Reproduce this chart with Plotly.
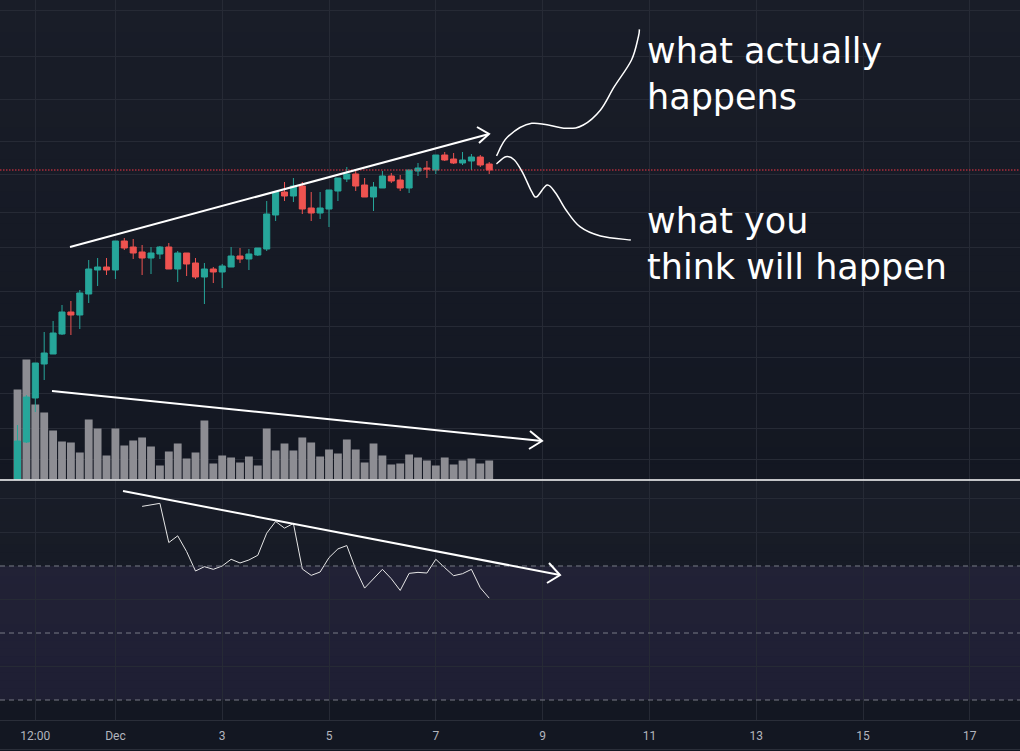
import plotly.graph_objects as go
import pandas as pd

W, H = 1020, 751

# ---------------- data (4-hour candles) ----------------
start_time = "2023-11-29 04:00"
opens = [0.15, 0.58, 1.02, 1.36, 1.46, 1.66, 1.88, 1.85, 2.06, 2.30,
         2.33, 2.30, 2.59, 2.53, 2.48, 2.42, 2.46, 2.53, 2.31, 2.47,
         2.37, 2.23, 2.31, 2.28, 2.33, 2.44, 2.41, 2.45, 2.51, 2.85,
         3.08, 3.04, 3.14, 2.92, 2.87, 2.91, 3.09, 3.21, 3.26, 3.15,
         3.03, 3.12, 3.24, 3.20, 3.12, 3.29, 3.32, 3.30, 3.45, 3.41,
         3.37, 3.39, 3.43, 3.36]
highs = [0.75, 1.05, 1.37, 1.68, 1.79, 1.95, 1.99, 2.10, 2.40, 2.42,
         2.42, 2.59, 2.62, 2.61, 2.55, 2.53, 2.54, 2.57, 2.49, 2.47,
         2.42, 2.37, 2.33, 2.36, 2.53, 2.52, 2.51, 2.52, 2.99, 3.08,
         3.18, 3.22, 3.18, 3.08, 3.08, 3.10, 3.22, 3.33, 3.30, 3.22,
         3.18, 3.29, 3.27, 3.25, 3.30, 3.37, 3.39, 3.45, 3.48, 3.47,
         3.48, 3.46, 3.45, 3.38]
lows = [0.10, 0.57, 0.88, 1.20, 1.46, 1.65, 1.65, 1.71, 1.97, 2.14,
        2.25, 2.21, 2.50, 2.41, 2.25, 2.26, 2.41, 2.31, 2.18, 2.24,
        2.21, 1.96, 2.17, 2.12, 2.33, 2.37, 2.30, 2.44, 2.49, 2.79,
        2.99, 2.98, 2.86, 2.79, 2.81, 2.73, 2.99, 3.18, 3.09, 3.03,
        2.89, 3.12, 3.17, 3.09, 3.07, 3.24, 3.22, 3.26, 3.39, 3.36,
        3.35, 3.30, 3.33, 3.26]
closes = [0.59, 1.03, 1.37, 1.47, 1.67, 1.88, 1.85, 2.07, 2.31, 2.33,
          2.30, 2.59, 2.52, 2.47, 2.42, 2.47, 2.53, 2.31, 2.47, 2.36,
          2.23, 2.31, 2.28, 2.34, 2.44, 2.41, 2.46, 2.52, 2.86, 3.08,
          3.04, 3.14, 2.91, 2.87, 2.92, 3.10, 3.22, 3.26, 3.14, 3.03,
          3.13, 3.24, 3.19, 3.12, 3.30, 3.32, 3.31, 3.45, 3.40, 3.37,
          3.40, 3.43, 3.35, 3.30]
volume = [900, 1200, 750, 670, 490, 380, 370, 270, 600, 510,
          240, 510, 340, 390, 420, 330, 140, 280, 360, 210,
          270, 590, 160, 240, 220, 170, 230, 140, 510, 290,
          360, 290, 420, 370, 230, 300, 260, 400, 300, 170,
          360, 240, 150, 160, 250, 220, 190, 140, 220, 150,
          190, 210, 160, 190]
rsi_start = 14
rsi = [87.8, 88.2, 88.7, 77.0, 79.0, 74.3, 68.5, 69.8, 69.0, 70.0,
       72.0, 70.9, 71.8, 73.2, 79.8, 83.3, 81.3, 82.7, 69.1, 67.2,
       68.2, 72.5, 75.1, 76.1, 69.0, 63.4, 66.2, 69.0, 66.2, 62.7,
       67.8, 68.1, 67.9, 72.0, 69.5, 67.1, 67.7, 69.0, 63.5, 60.4]

tick_vals = ["2023-11-29 12:00", "2023-12-01", "2023-12-03", "2023-12-05",
             "2023-12-07", "2023-12-09", "2023-12-11", "2023-12-13",
             "2023-12-15", "2023-12-17"]
tick_text = ["12:00", "Dec", "3", "5", "7", "9", "11", "13", "15", "17"]
price_grid = [4.90, 4.44, 4.01, 3.59, 3.26, 2.88, 2.53, 2.09, 1.74, 1.43, 1.07, 0.72, 0.41]
rsi_grid = [40, 60, 80, 90]
rsi_levels = [70, 50, 30]
notes = ["what actually<br>happens", "what you<br>think will happen"]

times = pd.date_range(start_time, periods=len(opens), freq="4h")
last_price = closes[-1]

# ---------------- style ----------------
UP, DOWN, VOL = "#26a69a", "#ef5350", "#8d8d93"
GRID = "#262a35"
BG_TOP, BG_BOT = (25, 29, 40), (19, 23, 34)
X_RANGE = ["2023-11-28 20:08", "2023-12-17 22:33"]
MAIN = [1 - 479.5 / H, 1.0]
LOWER = [1 - 720 / H, 1 - 481 / H]


def px(x):
    return x / W


def py(y):
    return 1 - y / H


def blend(c1, c2, t):
    return "rgb(%d,%d,%d)" % tuple(round(a + (b - a) * t) for a, b in zip(c1, c2))


shapes = []


def gradient(y_top, y_bot, n=30):
    for k in range(n):
        a = y_top + (y_bot - y_top) * k / n
        b = y_top + (y_bot - y_top) * (k + 1) / n
        shapes.append(dict(type="rect", xref="paper", yref="paper", x0=0, x1=1,
                           y0=py(min(b + 0.6, y_bot)), y1=py(a),
                           fillcolor=blend(BG_TOP, BG_BOT, (k + 0.5) / n),
                           line=dict(width=0), layer="below"))


gradient(0, 479.5)
gradient(481, 720)

# RSI band
shapes.append(dict(type="rect", xref="paper", yref="y3", x0=0, x1=1, y0=30, y1=70,
                   fillcolor="rgba(126,87,194,0.11)", line=dict(width=0), layer="below"))
for lv in rsi_levels:
    shapes.append(dict(type="line", xref="paper", yref="y3", x0=0, x1=1, y0=lv, y1=lv,
                       line=dict(color="#787b86", width=1, dash="5px,4px"), layer="above"))
# last price line
shapes.append(dict(type="line", xref="paper", yref="y2", x0=0, x1=1, y0=last_price, y1=last_price,
                   line=dict(color="#f23645", width=1, dash="1.5px,1.5px"), layer="above"))
# pane separator and bottom frame
shapes.append(dict(type="line", xref="paper", yref="paper", x0=0, x1=1, y0=py(480), y1=py(480),
                   line=dict(color="#ffffff", width=1.5), layer="above"))
shapes.append(dict(type="line", xref="paper", yref="paper", x0=0, x1=1, y0=py(749.5), y1=py(749.5),
                   line=dict(color="#2a2e39", width=1), layer="above"))


def poly(pts, width=2.0):
    d = "M" + " L".join(f"{px(x):.5f},{py(y):.5f}" for x, y in pts)
    shapes.append(dict(type="path", xref="paper", yref="paper", path=d,
                       line=dict(color="#ffffff", width=width), layer="above"))


def smooth(pts, width=1.5):
    P = [(px(x), py(y)) for x, y in pts]
    d = f"M{P[0][0]:.5f},{P[0][1]:.5f}"
    for i in range(len(P) - 1):
        p0 = P[i - 1] if i > 0 else P[i]
        p1, p2 = P[i], P[i + 1]
        p3 = P[i + 2] if i + 2 < len(P) else P[i + 1]
        c1 = (p1[0] + (p2[0] - p0[0]) / 6, p1[1] + (p2[1] - p0[1]) / 6)
        c2 = (p2[0] - (p3[0] - p1[0]) / 6, p2[1] - (p3[1] - p1[1]) / 6)
        d += f" C{c1[0]:.5f},{c1[1]:.5f} {c2[0]:.5f},{c2[1]:.5f} {p2[0]:.5f},{p2[1]:.5f}"
    shapes.append(dict(type="path", xref="paper", yref="paper", path=d,
                       line=dict(color="#ffffff", width=width), layer="above"))


# hand-drawn trend arrows
poly([(70, 247), (489, 134)])
poly([(477, 127), (489, 134), (479, 143)])
poly([(52, 391), (542, 441)])
poly([(530, 431), (542, 441), (529, 449)])
poly([(123, 491), (560, 575)])
poly([(549, 563), (560, 575), (547, 583)])
# hand-drawn scenario curves
smooth([(496.5, 156), (507.5, 137), (531.7, 123.3), (566, 128.3), (583.3, 125),
        (600.5, 110), (614.3, 86.7), (631.5, 60), (638.4, 36.7), (639.4, 29.3)])
smooth([(496.5, 164), (505.8, 156.7), (514.4, 160), (523, 173.3), (531.7, 191.7),
        (536.8, 196.7), (547.1, 185), (555.8, 193.3), (566, 210), (579.9, 226.7),
        (600.5, 236), (630.8, 240)])

annotations = []
TFONT = dict(family="DejaVu Sans", size=35, color="#ffffff")
for text, centre in zip(notes, [74, 244]):
    annotations.append(dict(text=text, xref="paper", yref="paper", x=px(645), y=py(centre),
                            xanchor="left", yanchor="middle", align="left", showarrow=False,
                            font=TFONT))

fig = go.Figure()
fig.add_trace(go.Bar(x=times, y=volume, xaxis="x", yaxis="y", marker=dict(color=VOL, line=dict(width=0)),
                     showlegend=False, hoverinfo="skip"))
fig.add_trace(go.Candlestick(x=times, open=opens, high=highs, low=lows, close=closes,
                             xaxis="x", yaxis="y2", whiskerwidth=0,
                             increasing=dict(line=dict(color=UP, width=1), fillcolor=UP),
                             decreasing=dict(line=dict(color=DOWN, width=1), fillcolor=DOWN),
                             showlegend=False))
fig.add_trace(go.Scatter(x=times[rsi_start:], y=rsi, xaxis="x2", yaxis="y3", mode="lines",
                         line=dict(color="#e6e6e6", width=1), showlegend=False, hoverinfo="skip"))

axis_common = dict(showgrid=True, gridcolor=GRID, gridwidth=1, zeroline=False, ticks="")
fig.update_layout(
    width=W, height=H, margin=dict(l=0, r=0, t=0, b=0),
    paper_bgcolor="#131722", plot_bgcolor="rgba(0,0,0,0)",
    bargap=0.12, boxgap=0.32, boxgroupgap=0,
    xaxis=dict(domain=[0, 1], anchor="y", range=X_RANGE, tickvals=tick_vals, showticklabels=False,
               rangeslider=dict(visible=False), **axis_common),
    xaxis2=dict(domain=[0, 1], anchor="y3", range=X_RANGE, tickvals=tick_vals, ticktext=tick_text,
                showline=True, linecolor="#2a2e39", linewidth=1, ticklabelstandoff=5,
                tickfont=dict(family="Roboto", size=12, color="#b2b5be"), **axis_common),
    yaxis=dict(domain=MAIN, anchor="x", range=[0, 4795], visible=False, fixedrange=True),
    yaxis2=dict(overlaying="y", anchor="x", range=[0.205, 5.0], tickvals=price_grid,
                showticklabels=False, **axis_common),
    yaxis3=dict(domain=LOWER, anchor="x2", range=[24.03, 95.37], tickvals=rsi_grid,
                showticklabels=False, **axis_common),
    shapes=shapes, annotations=annotations, showlegend=False,
)
fig.write_html("out.html")
